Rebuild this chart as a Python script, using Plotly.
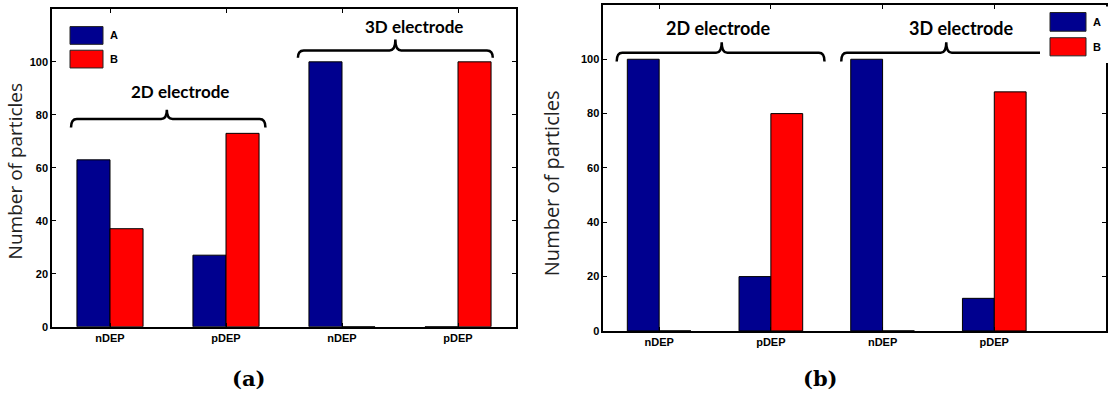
import plotly.graph_objects as go

# ---------------- data ----------------
categories = ["nDEP", "pDEP", "nDEP", "pDEP"]
series_names = ["A", "B"]
a_values_A = [63, 27, 100, 0]
a_values_B = [37, 73, 0, 100]
b_values_A = [100, 20, 100, 12]
b_values_B = [0, 80, 0, 88]
y_ticks = [0, 20, 40, 60, 80, 100]
group_labels = ["2D electrode", "3D electrode"]
panel_labels = ["(a)", "(b)"]
y_title = "Number of particles"

BLUE = "#00008F"
RED = "#FF0000"
W, H = 1114, 398


def px(x):
    return x / W


def py(y):
    return 1 - y / H


positions = list(range(1, len(categories) + 1))

fig = go.Figure()
for vals, name, color, xa, ya in [
    (a_values_A, series_names[0], BLUE, "x", "y"),
    (a_values_B, series_names[1], RED, "x", "y"),
    (b_values_A, series_names[0], BLUE, "x2", "y2"),
    (b_values_B, series_names[1], RED, "x2", "y2"),
]:
    fig.add_trace(go.Bar(
        x=positions, y=vals, name=name, xaxis=xa, yaxis=ya,
        marker=dict(color=color, line=dict(color="black", width=1)),
        showlegend=False, offsetgroup=name,
    ))

axis_common = dict(
    showline=True, linecolor="black", linewidth=1.5, mirror="allticks",
    ticks="inside", ticklen=4, tickwidth=1, tickcolor="black",
    showgrid=False, zeroline=False,
    tickfont=dict(family="Liberation Sans, Arial", size=11, color="black", weight="bold"),
)

fig.update_layout(
    width=W, height=H,
    margin=dict(l=0, r=0, t=0, b=0),
    paper_bgcolor="white", plot_bgcolor="white",
    barmode="group", bargap=0.43, bargroupgap=0,
    xaxis=dict(domain=[px(52), px(516)], range=[0.5, 4.5], anchor="y",
               tickvals=positions, ticktext=categories, **axis_common),
    yaxis=dict(domain=[py(331.7), py(9)], range=[0, 120], anchor="x",
               tickvals=y_ticks, **axis_common),
    xaxis2=dict(domain=[px(603.3), px(1106)], range=[0.5, 5.0], anchor="y2",
                tickvals=positions, ticktext=categories, **axis_common),
    yaxis2=dict(domain=[py(336), py(5)], range=[0, 120], anchor="x2",
                tickvals=y_ticks, **axis_common),
)


def brace(x0, x1, xm, yh, yend, ytop, dx=0.05):
    return (f"M{x0},{yend} Q{x0},{yh} {x0+dx},{yh} L{xm-dx},{yh} "
            f"Q{xm},{yh} {xm},{ytop} Q{xm},{yh} {xm+dx},{yh} "
            f"L{x1-dx},{yh} Q{x1},{yh} {x1},{yend}")


shapes = []
for xr, yr, args in [
    ("x", "y", (0.664, 2.34, 1.49, 78.4, 75.2, 81.9)),
    ("x", "y", (2.62, 4.30, 3.46, 104.3, 101.5, 108.4)),
    ("x2", "y2", (0.62, 2.48, 1.56, 102.4, 99.2, 106.3)),
    ("x2", "y2", (2.63, 4.48, 3.57, 102.4, 99.2, 106.3)),
]:
    shapes.append(dict(type="path", xref=xr, yref=yr, path=brace(*args),
                       line=dict(color="black", width=2.5), layer="above"))

# white box behind the (b) legend hiding the right axis line
shapes.append(dict(type="rect", xref="paper", yref="paper",
                   x0=px(1040), x1=px(1114), y0=py(64), y1=py(6.5),
                   fillcolor="white", line=dict(width=0), layer="above"))

annotations = []
# legend swatches
for (x0, x1, ys) in [(70, 103, [(27, 45), (51, 69)]),
                     (1050, 1086, [(12.7, 31.7), (38.3, 56.7)])]:
    for (y0, y1), color, name in zip(ys, [BLUE, RED], series_names):
        shapes.append(dict(type="rect", xref="paper", yref="paper",
                           x0=px(x0), x1=px(x1), y0=py(y1), y1=py(y0),
                           fillcolor=color, line=dict(color="#222", width=1),
                           layer="above"))
        annotations.append(dict(xref="paper", yref="paper", x=px(x1 + 5),
                                y=py((y0 + y1) / 2), text=f"<b>{name}</b>",
                                showarrow=False, xanchor="left", yanchor="middle",
                                font=dict(family="Liberation Sans, Arial", size=11,
                                          color="black")))

# group labels
for txt, cx, cy, size in [
    (group_labels[0], 180, 93, 17), (group_labels[1], 414, 27, 17),
    (group_labels[0], 718, 28, 18), (group_labels[1], 961, 28, 18),
]:
    annotations.append(dict(xref="paper", yref="paper", x=px(cx), y=py(cy),
                            text=f"<b>{txt}</b>", showarrow=False,
                            xanchor="center", yanchor="middle",
                            font=dict(family="Lato", size=size, color="black")))

# y titles
for cx, cy, size in [(15, 174, 19), (551, 186, 20)]:
    annotations.append(dict(xref="paper", yref="paper", x=px(cx), y=py(cy),
                            text=y_title, textangle=-90, showarrow=False,
                            xanchor="center", yanchor="middle", borderpad=0,
                            font=dict(family="Open Sans", size=size, color="#222")))

# panel labels
for txt, cx in zip(panel_labels, [248, 820]):
    annotations.append(dict(xref="paper", yref="paper", x=px(cx), y=py(384),
                            text=f"<b>{txt}</b>", showarrow=False,
                            xanchor="center", yanchor="middle",
                            font=dict(family="DejaVu Serif", size=21, color="black")))

fig.update_layout(shapes=shapes, annotations=annotations)
fig.write_html("out.html")
